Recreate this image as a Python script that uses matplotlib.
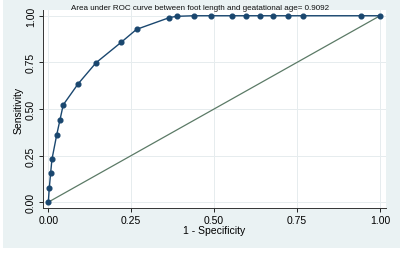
import matplotlib
matplotlib.use("Agg")
import matplotlib.pyplot as plt
from matplotlib.patches import Rectangle

plt.rcParams["font.family"] = ["Liberation Sans", "DejaVu Sans"]

# ROC points
fpr = [0.0, 0.003, 0.007, 0.011, 0.025, 0.035, 0.045, 0.09, 0.144, 0.22, 0.266,
       0.365, 0.387, 0.44, 0.49, 0.553, 0.595, 0.637, 0.678, 0.722, 0.767, 0.943, 1.0]
tpr = [0.0, 0.076, 0.156, 0.23, 0.358, 0.44, 0.522, 0.635, 0.748, 0.858, 0.927,
       0.99, 0.997, 1.0, 1.0, 1.0, 1.0, 1.0, 1.0, 1.0, 1.0, 1.0, 1.0]
ticks = [0.0, 0.25, 0.5, 0.75, 1.0]
tick_labels = ["0.00", "0.25", "0.50", "0.75", "1.00"]
title = "Area under ROC curve between foot length and geatational age= 0.9092"

bg = "#eaf2f3"
fig = plt.figure(figsize=(4, 2.55), dpi=100, facecolor="white")
# Stata-style graph region, white margin on left and bottom
fig.add_artist(Rectangle((0.008, 0.025), 0.992, 0.975, transform=fig.transFigure,
                         facecolor=bg, edgecolor="none", zorder=-10))
ax = fig.add_axes([0.1075, 0.18, 0.8575, 0.777])
ax.set_facecolor("white")

ax.plot([0, 1], [0, 1], color="#5b7a66", lw=0.9, zorder=2)
ax.plot(fpr, tpr, color="#1a476f", lw=1.0, marker="o", ms=3.4, zorder=3)

ax.set_xlim(-0.016, 1.018)
ax.set_ylim(-0.032, 1.031)
ax.set_xticks(ticks)
ax.set_xticklabels(tick_labels, fontsize=7.5)
ax.set_yticks(ticks)
ax.set_yticklabels(tick_labels, fontsize=7.5, rotation=90, va="center")
ax.grid(True, color="#e6ecee", lw=0.7)
ax.set_axisbelow(True)
for s in ["top", "right"]:
    ax.spines[s].set_visible(False)
for s in ["left", "bottom"]:
    ax.spines[s].set_color("#333333")
    ax.spines[s].set_linewidth(0.7)
ax.tick_params(length=3, width=0.6, pad=2)
ax.set_xlabel("1 - Specificity", fontsize=7.5, labelpad=0)
ax.set_ylabel("Sensitivity", fontsize=7.5, labelpad=2)
fig.text(0.5, 0.968, title, fontsize=5.8, ha="center", va="center", color="#111111")

fig.savefig("out.png", dpi=100, facecolor="white")
